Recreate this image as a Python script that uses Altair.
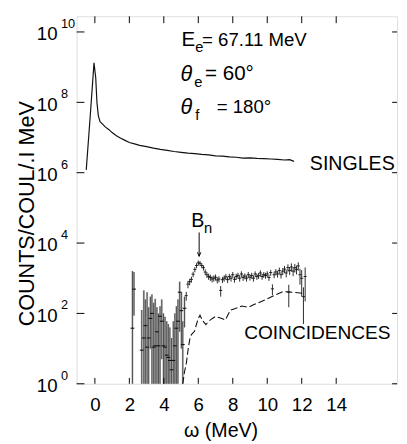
import altair as alt
import pandas as pd

FONT = "Liberation Sans"

# ---- singles spectrum (counts / coul / 0.1 MeV) ----
singles_x = [-0.50, -0.27, -0.05, 0.05, 0.12, 0.20, 0.30, 0.45, 0.60, 0.80, 1.00, 1.25,
             1.50, 1.75, 2.00, 2.30, 2.60, 3.00, 3.40, 3.80, 4.20, 4.60, 5.00, 5.40,
             5.80, 6.20, 6.60, 7.00, 7.40, 7.80, 8.20, 8.60, 9.00, 9.40, 9.80, 10.20,
             10.60, 11.00, 11.30, 11.55]
singles_y = [1.2e6, 4.0e7, 1.32e9, 5.0e8, 1.0e8, 4.2e7, 2.8e7, 2.4e7, 2.0e7, 1.7e7, 1.38e7, 1.12e7,
             9.5e6, 8.3e6, 7.2e6, 6.6e6, 6.0e6, 5.5e6, 5.0e6, 4.6e6, 4.3e6, 4.0e6, 3.8e6, 3.6e6,
             3.5e6, 3.3e6, 3.2e6, 3.0e6, 2.95e6, 2.8e6, 2.75e6, 2.6e6, 2.65e6, 2.55e6, 2.5e6, 2.45e6,
             2.4e6, 2.3e6, 2.35e6, 2.1e6]

# ---- coincidences, low-statistics region (value, lower, upper) ----
low_x = [2.18, 2.27, 2.72, 2.84, 2.93, 3.03, 3.12, 3.22, 3.31, 3.41, 3.50, 3.60, 3.69, 3.78,
         3.88, 3.98, 4.07, 4.17, 4.26, 4.35, 4.45, 4.55, 4.64, 4.73, 4.82, 4.92, 5.02, 5.10, 5.20]
low_y = [38, 490, 9, 20, 45, 11, 20, 72, 100, 11, 12, 30, 12, 83,
         60, 12, 11, 6.5, 5.6, 4.6, 2.5, 4.6, 12, 38, 60, 400, 120, 13, 140]
low_lo = [1, 87, 1, 1, 1, 1, 1, 10, 1, 1, 1, 1, 1, 1,
          5, 1, 1, 1, 1, 1, 1, 1, 1, 1, 1, 30, 10, 1, 40]
low_hi = [1600, 1500, 125, 450, 250, 400, 150, 300, 350, 200, 260, 150, 100, 160,
          250, 100, 80, 60, 50, 40, 20, 60, 100, 160, 250, 800, 400, 60, 300]

# ---- coincidences, main region (value, sigma) ----
coin_x = [5.30, 5.40, 5.50, 5.60, 5.70, 5.80, 5.90, 6.00, 6.10, 6.20, 6.30, 6.40, 6.50, 6.60,
          6.70, 6.80, 6.90, 7.00, 7.10, 7.20, 7.30, 7.40, 7.50, 7.60, 7.70, 7.80, 7.90, 8.00,
          8.10, 8.20, 8.30, 8.40, 8.50, 8.60, 8.70, 8.80, 8.90, 9.00, 9.10, 9.20, 9.30, 9.40,
          9.50, 9.60, 9.70, 9.80, 9.90, 10.00, 10.10, 10.20, 10.30, 10.40, 10.50, 10.60, 10.70,
          10.80, 10.90, 11.00, 11.10, 11.20, 11.25, 11.30, 11.40, 11.50, 11.60, 11.70, 11.80,
          11.90, 12.00, 12.10, 12.20]
coin_y = [320, 680, 800, 930, 1300, 1780, 2300, 2750, 2650, 2300, 2000, 1500, 1260, 1120,
          1050, 950, 1000, 1070, 890, 950, 450, 910, 1000, 1100, 910, 1120, 1000, 1260,
          930, 1120, 1200, 1000, 1320, 1050, 1150, 1000, 1260, 1070, 1200, 1000, 1320, 1120,
          1180, 1410, 1120, 1260, 1200, 1320, 1050, 1450, 500, 1260, 1510, 1320, 1660,
          1260, 1590, 1820, 1410, 2000, 400, 1660, 2090, 1590, 2000, 1780, 2240,
          1260, 1000, 300, 1120]
coin_err = [90, 160, 170, 180, 230, 300, 380, 450, 430, 380, 340, 280, 240, 220,
            210, 190, 200, 210, 180, 190, 150, 180, 200, 210, 180, 220, 200, 240,
            180, 220, 230, 200, 250, 210, 220, 200, 240, 210, 230, 200, 250, 220,
            230, 270, 220, 240, 230, 260, 210, 280, 170, 260, 300, 280, 350,
            280, 350, 420, 350, 480, 250, 420, 550, 450, 550, 500, 600,
            600, 700, 250, 900]

# ---- dashed curve ----
dash_x = [5.10, 5.20, 5.30, 5.40, 5.50, 5.60, 5.78, 5.90, 6.00, 6.10, 6.25, 6.44, 6.60, 6.82,
          7.00, 7.20, 7.40, 7.57, 7.86, 8.15, 8.52, 8.90, 9.20, 9.66, 10.00, 10.40, 10.90,
          11.20, 11.55, 11.90, 12.10]
dash_y = [1.0, 2.2, 3.6, 8.7, 18, 25, 31, 50, 72, 89, 62, 48, 60, 72,
          82, 76, 70, 65, 123, 138, 162, 150, 175, 219, 260, 324, 417,
          410, 398, 380, 370]

x_ticks = [0, 2, 4, 6, 8, 10, 12, 14]
y_ticks = [1, 1e2, 1e4, 1e6, 1e8, 1e10]
y_exps = ["0", "2", "4", "6", "8", "10"]

W, H = 327, 375

xscale = alt.Scale(domain=[-1.06, 17.53], nice=False, zero=False)
yscale = alt.Scale(type="log", domain=[1, 2.79e10], nice=False)

xaxis = alt.Axis(values=x_ticks, ticks=False, tickSize=0, domain=False, grid=False,
                 labelFont=FONT, labelFontSize=19, labelColor="black", labelPadding=12,
                 title="ω (MeV)", titleFont=FONT, titleFontSize=20, titleFontWeight="normal",
                 titleColor="black", titleX=147, titleY=48, titleAlign="center",
                 titleBaseline="middle")
yaxis = alt.Axis(values=y_ticks, labelExpr="'10'", ticks=False, tickSize=0, domain=False,
                 grid=False, labelFont=FONT, labelFontSize=19, labelColor="black",
                 labelPadding=20, labelOffset=2,
                 title="COUNTS/COUL/.I MeV", titleFont=FONT, titleFontSize=22,
                 titleFontWeight="normal", titleColor="black", titleX=-51, titleY=201,
                 titleAlign="center", titleBaseline="middle", titleAngle=270)


def X(f):
    return alt.X(f, type="quantitative", scale=xscale, axis=xaxis)


def Y(f):
    return alt.Y(f, type="quantitative", scale=yscale, axis=yaxis)


singles_df = pd.DataFrame({"x": singles_x, "y": singles_y})
low_df = pd.DataFrame({"x": low_x, "y": low_y, "lo": low_lo, "hi": low_hi})
coin_df = pd.DataFrame({"x": coin_x, "y": coin_y, "s": coin_err})
dash_df = pd.DataFrame({"x": dash_x, "y": dash_y})
xt_df = pd.DataFrame({"x": x_ticks})
yt_df = pd.DataFrame({"y": y_ticks, "e": y_exps})
one = pd.DataFrame({"a": [0]})

singles = alt.Chart(singles_df).mark_line(color="#111", strokeWidth=1.2).encode(
    x=X("x"), y=Y("y"))

low_gray = alt.Chart(low_df).mark_rule(color="#999", strokeWidth=2.0, opacity=0.7).encode(
    x=X("x"), y=Y("lo"), y2="hi")
low_black = alt.Chart(low_df).mark_rule(color="#222", strokeWidth=0.7).encode(
    x=X("x"), y=Y("lo"), y2="hi")
low_h = alt.Chart(low_df).transform_calculate(
    xa="datum.x - 0.11", xb="datum.x + 0.11").mark_rule(color="#111", strokeWidth=1.1).encode(
    x=X("xa:Q"), x2="xb:Q", y=Y("y"))

coin_v = alt.Chart(coin_df).transform_calculate(
    lo="max(datum.y - datum.s, 1)", hi="datum.y + datum.s").mark_rule(
    color="#111", strokeWidth=0.9).encode(x=X("x"), y=Y("lo:Q"), y2="hi:Q")
coin_h = alt.Chart(coin_df).transform_calculate(
    xa="datum.x - 0.09", xb="datum.x + 0.09").mark_rule(color="#111", strokeWidth=0.9).encode(
    x=X("xa:Q"), x2="xb:Q", y=Y("y"))

dashed = alt.Chart(dash_df).mark_line(color="#111", strokeWidth=1.1, strokeDash=[7, 3]).encode(
    x=X("x"), y=Y("y"))

# inward ticks on all four sides
t_bottom = alt.Chart(xt_df).mark_rule(color="black", strokeWidth=1).encode(
    x=X("x"), y=alt.value(H), y2=alt.value(H - 6))
t_top = alt.Chart(xt_df).mark_rule(color="black", strokeWidth=1).encode(
    x=X("x"), y=alt.value(0), y2=alt.value(7))
t_left = alt.Chart(yt_df).mark_rule(color="black", strokeWidth=1).encode(
    y=Y("y"), x=alt.value(0), x2=alt.value(8))
t_right = alt.Chart(yt_df).mark_rule(color="black", strokeWidth=1).encode(
    y=Y("y"), x=alt.value(W), x2=alt.value(W - 5))

exps = alt.Chart(yt_df).mark_text(align="left", baseline="middle", dy=-8, fontSize=13,
                                  font=FONT, color="black").encode(
    y=Y("y"), x=alt.value(-16), text="e:N")

# B_n arrow
arrow_df = pd.DataFrame({"x": [6.05], "y1": [2.0e4], "y2": [4.2e3]})
arrow_line = alt.Chart(arrow_df).mark_rule(color="black", strokeWidth=1).encode(
    x=X("x"), y=Y("y1"), y2="y2")
arrow_head = alt.Chart(arrow_df).mark_point(
    shape="M-0.55,-1.3L0,0L0.55,-1.3", filled=False, color="black", strokeWidth=1,
    size=40, opacity=1).encode(x=X("x"), y=Y("y2"))


def txt(s, x, y, size, **kw):
    return alt.Chart(one).mark_text(text=s, align="left", baseline="middle", font=FONT,
                                    fontSize=size, color="black", **kw).encode(
        x=alt.value(x), y=alt.value(y))


labels = [
    txt("E", 107, 24, 21),
    txt("e", 121, 31, 15),
    txt("= 67.11 MeV", 128, 24, 19),
    txt("θ", 106, 59, 22, fontStyle="italic"),
    txt("e", 120, 67, 15),
    txt("= 60°", 131, 59, 21),
    txt("θ", 106, 93, 22, fontStyle="italic"),
    txt("f", 121, 101, 15),
    txt("= 180°", 143, 93, 19),
    txt("SINGLES", 238, 151, 20),
    txt("COINCIDENCES", 171, 323, 19.5),
    txt("B", 117, 209, 20),
    txt("n", 130, 216, 15),
]

chart = alt.layer(
    low_gray, low_black, low_h, coin_v, coin_h, dashed, singles,
    t_bottom, t_top, t_left, t_right, exps, arrow_line, arrow_head, *labels
).properties(
    width=W, height=H,
    autosize=alt.AutoSizeParams(type="none"),
    padding={"left": 70, "top": 4, "right": 2, "bottom": 57},
).configure_view(
    stroke="black", strokeWidth=1
).configure(background="white")

chart.save("out.html", embed_options={"renderer": "svg", "actions": False})
